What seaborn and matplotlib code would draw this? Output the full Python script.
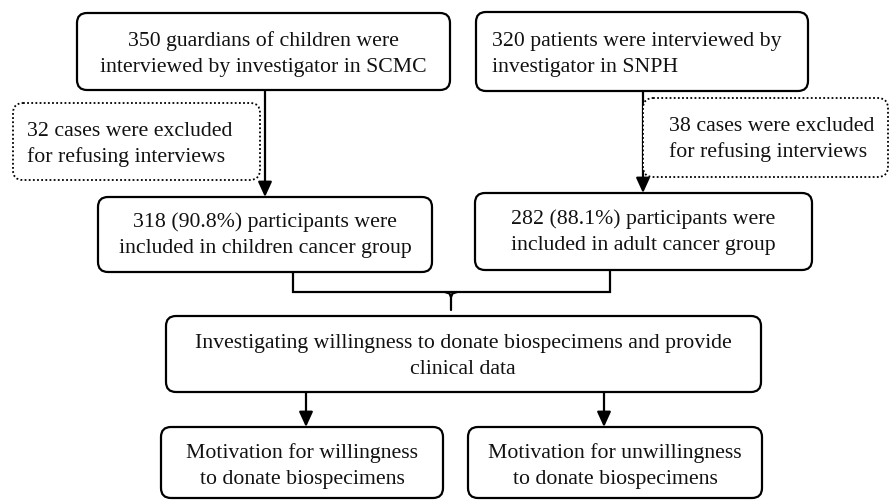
import matplotlib
matplotlib.use("Agg")
import matplotlib.pyplot as plt
import seaborn as sns
from matplotlib.patches import FancyBboxPatch

# ---- content (data) ----
top_left_lines = ["350 guardians of children were", "interviewed by investigator in SCMC"]
top_right_lines = ["320 patients were interviewed by", "investigator in SNPH"]
excl_left_lines = ["32 cases were excluded", "for refusing interviews"]
excl_right_lines = ["38 cases were excluded", "for refusing interviews"]
group_left_lines = ["318 (90.8%) participants were", "included in children cancer group"]
group_right_lines = ["282 (88.1%) participants were", "included in adult cancer group"]
invest_lines = ["Investigating willingness to donate biospecimens and provide", "clinical data"]
motiv_left_lines = ["Motivation for willingness", "to donate biospecimens"]
motiv_right_lines = ["Motivation for unwillingness", "to donate biospecimens"]

# ---- layout (pixel coordinates, y downwards) ----
W, H = 891, 500
FONT = "Liberation Serif"
FS = 15.7
LINE_GAP = 26

sns.set_theme(style="white")
plt.rcParams["font.family"] = [FONT, "DejaVu Serif"]

fig = plt.figure(figsize=(W / 100, H / 100), dpi=100)
ax = fig.add_axes([0, 0, 1, 1])
ax.set_xlim(0, W)
ax.set_ylim(H, 0)
ax.axis("off")

LW = 1.6


def box(x0, y0, x1, y1, dotted=False, r=10):
    ls = (0, (1, 1.3)) if dotted else "-"
    p = FancyBboxPatch((x0, y0), x1 - x0, y1 - y0,
                       boxstyle=f"round,pad=0,rounding_size={r}",
                       fc="white", ec="black", lw=1.3 if dotted else LW, ls=ls,
                       zorder=2)
    ax.add_patch(p)


def lines_text(lines, x, yc, ha="center"):
    n = len(lines)
    for i, s in enumerate(lines):
        y = yc + (i - (n - 1) / 2) * LINE_GAP
        ax.text(x, y, s, ha=ha, va="center_baseline", fontsize=FS,
                family=FONT, color="#111111", zorder=3)


def arrow(x, y0, y1):
    ax.annotate("", xy=(x, y1), xytext=(x, y0),
                arrowprops=dict(arrowstyle="-|>,head_length=0.7,head_width=0.32",
                                lw=LW, color="black", shrinkA=0, shrinkB=0,
                                mutation_scale=13),
                zorder=1)


# arrows first (under boxes)
arrow(265, 90, 197)
arrow(643, 91, 193)
arrow(306, 392, 427)
arrow(604, 392, 427)

# boxes
box(77, 13, 450, 90)
lines_text(top_left_lines, 263.5, 52)

box(476, 12, 808, 91)
lines_text(top_right_lines, 492, 52, ha="left")

box(13, 103, 260, 180, dotted=True)
lines_text(excl_left_lines, 27, 142, ha="left")

box(643, 98, 888, 177, dotted=True)
lines_text(excl_right_lines, 669, 137, ha="left")

box(98, 197, 432, 272)
lines_text(group_left_lines, 265, 233)

box(475, 193, 812, 270)
lines_text(group_right_lines, 643, 230)

box(166, 316, 761, 392)
lines_text(invest_lines, 463, 354)

box(161, 427, 443, 498)
lines_text(motiv_left_lines, 302, 464)

box(468, 427, 762, 498)
lines_text(motiv_right_lines, 615, 464)

# bracket joining the two groups
ax.plot([293, 293, 610, 610], [272, 292, 292, 270], color="black", lw=LW,
        solid_joinstyle="miter", zorder=1)
ax.plot([445, 449.5, 451, 452.5, 457], [292, 293.5, 297, 293.5, 292],
        color="black", lw=LW, zorder=1)
ax.plot([451, 451], [295, 310], color="black", lw=LW, zorder=1)

fig.savefig("out.png", dpi=100, facecolor="white")
